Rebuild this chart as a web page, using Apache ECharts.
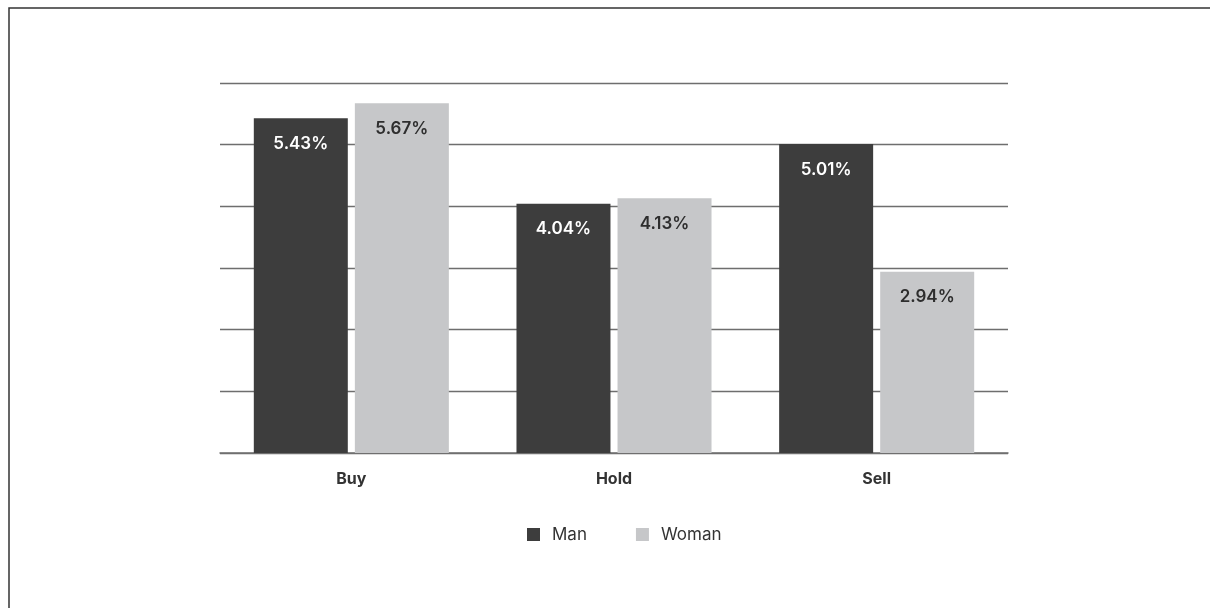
<!DOCTYPE html>
<html>
<head>
<meta charset="utf-8">
<script src="https://cdn.jsdelivr.net/npm/echarts@6/dist/echarts.min.js"></script>
<style>
  html, body { margin: 0; padding: 0; background: #ffffff; }
  #chart { width: 1210px; height: 608px; }
</style>
</head>
<body>
<div id="chart"></div>
<script>
// Categories and per-series values (percent)
const categories = ['Buy', 'Hold', 'Sell'];
const manValues = [5.43, 4.04, 5.01];
const womanValues = [5.67, 4.13, 2.94];
const seriesNames = ['Man', 'Woman'];

const FONT = 'Inter, "Noto Sans", sans-serif';
const MAN_COLOR = '#3d3d3d';
const WOMAN_COLOR = '#c6c7c9';

const chart = echarts.init(document.getElementById('chart'), null, { renderer: 'canvas' });

function labelStyle(color) {
  return {
    show: true,
    position: 'insideTop',
    distance: 17,
    formatter: p => p.value.toFixed(2) + '%',
    color: color,
    fontFamily: FONT,
    fontSize: 17,
    fontWeight: 600
  };
}

chart.setOption({
  animation: false,
  backgroundColor: '#ffffff',
  graphic: [{
    type: 'rect',
    shape: { x: 9, y: 8, width: 1400, height: 800 },
    style: { fill: 'none', stroke: '#333333', lineWidth: 1.5 },
    silent: true
  }],
  grid: { left: 220, right: 202, top: 83, bottom: 155, containLabel: false },
  legend: {
    data: seriesNames,
    left: 522,
    top: 521,
    icon: 'rect',
    itemWidth: 13,
    itemHeight: 13,
    itemGap: 49,
    textStyle: {
      fontFamily: FONT,
      fontSize: 17,
      color: '#333333',
      padding: [0, 0, 0, 7]
    }
  },
  xAxis: {
    type: 'category',
    data: categories,
    axisTick: { show: false },
    axisLine: { lineStyle: { color: '#707070', width: 1.5 } },
    axisLabel: {
      margin: 18,
      color: '#333333',
      fontFamily: FONT,
      fontSize: 16,
      fontWeight: 700
    }
  },
  yAxis: {
    type: 'value',
    min: 0,
    max: 6,
    interval: 1,
    axisLabel: { show: false },
    axisLine: { show: false },
    axisTick: { show: false },
    splitLine: { lineStyle: { color: '#6e6e6e', width: 1.3 } }
  },
  series: [
    {
      name: 'Man',
      type: 'bar',
      data: manValues,
      barWidth: 94,
      barGap: '7.5%',
      itemStyle: { color: MAN_COLOR },
      label: labelStyle('#ffffff')
    },
    {
      name: 'Woman',
      type: 'bar',
      data: womanValues,
      barWidth: 94,
      itemStyle: { color: WOMAN_COLOR },
      label: labelStyle('#2e2e2e')
    }
  ]
});
</script>
</body>
</html>
